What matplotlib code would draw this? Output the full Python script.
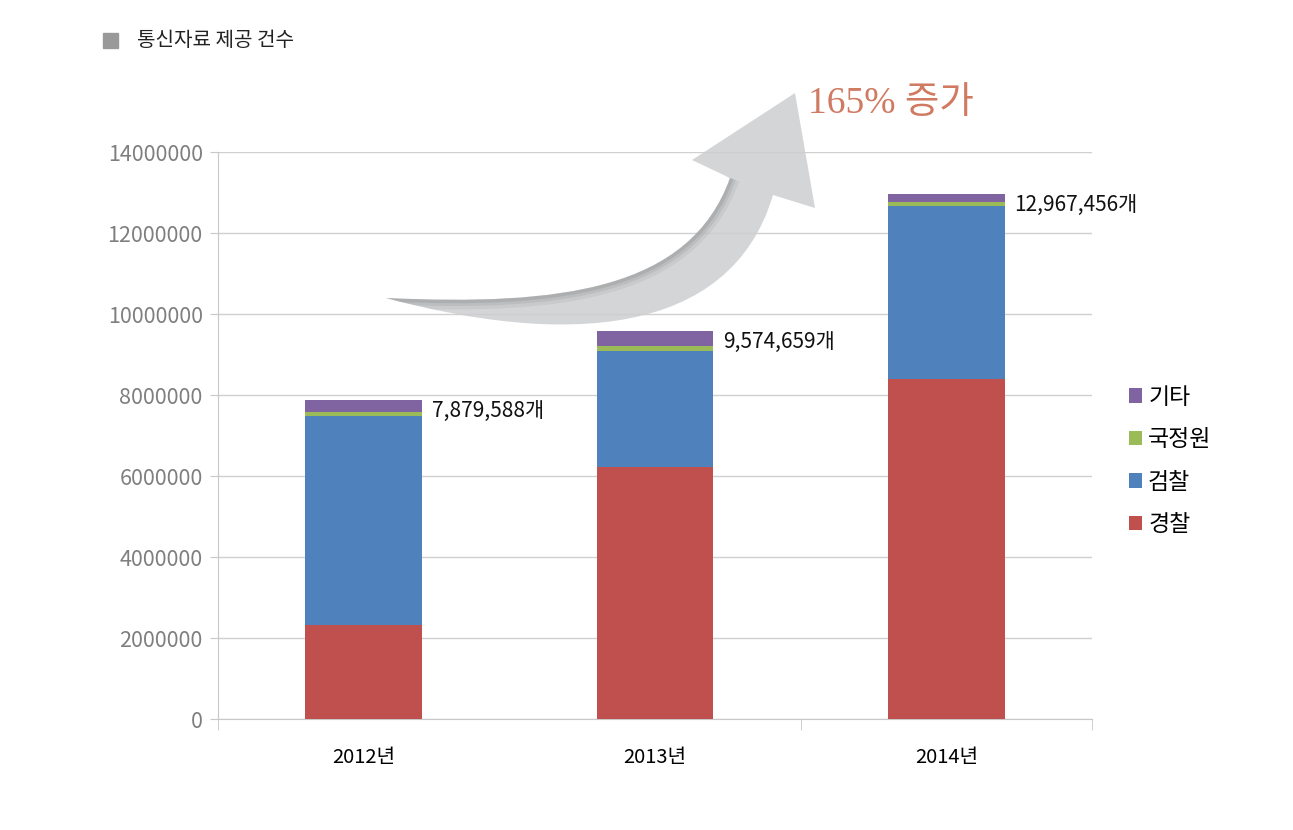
import matplotlib.pyplot as plt
from matplotlib.patches import PathPatch, Rectangle
from matplotlib.path import Path
import numpy as np

plt.rcParams['font.family'] = ['Noto Sans CJK KR', 'DejaVu Sans']

# data
years = ['2012년', '2013년', '2014년']
police = [2330000, 6210000, 8390000]       # 경찰
prosecution = [5160000, 2880000, 4280000]  # 검찰
nis = [100000, 130000, 100000]             # 국정원
other = [289588, 354659, 197456]           # 기타
total_labels = ['7,879,588개', '9,574,659개', '12,967,456개']
yticks = [0, 2000000, 4000000, 6000000, 8000000, 10000000, 12000000, 14000000]

W, H = 1293, 830
fig = plt.figure(figsize=(W / 100, H / 100), dpi=100)
ax = fig.add_axes([218 / W, 1 - 719 / H, (1092 - 218) / W, (719 - 152) / H])

x = np.arange(len(years))
w = 0.4
colors = {'경찰': '#C0504D', '검찰': '#4F81BD', '국정원': '#9BBB59', '기타': '#8064A2'}

bottom = np.zeros(len(years))
handles = {}
for name, vals in [('경찰', police), ('검찰', prosecution), ('국정원', nis), ('기타', other)]:
    b = ax.bar(x, vals, w, bottom=bottom, color=colors[name], label=name, zorder=3)
    handles[name] = b
    bottom += np.array(vals)

# total labels next to bar tops
for xi, tot, lab in zip(x, bottom, total_labels):
    ax.annotate(lab, xy=(xi + w / 2, tot), xytext=(7, -8), textcoords='offset points',
                ha='left', va='center', fontsize=15, color='#111111', zorder=5)

ax.set_xlim(-0.5, 2.5)
ax.set_ylim(0, 14000000)
ax.set_yticks(yticks)
ax.set_yticklabels([str(v) for v in yticks])
ax.yaxis.grid(True, color='#D0D0D0', linewidth=1, zorder=0)
ax.tick_params(axis='y', length=6, color='#C8C8C8', labelcolor='#7F7F7F', labelsize=15.5, pad=5)

ax.set_xticks(x)
ax.set_xticklabels(years, fontsize=14.5, color='#000000', fontweight='medium')
ax.tick_params(axis='x', length=0, pad=20)
ax.set_xticks([-0.5, 1.5, 2.5], minor=True)
ax.tick_params(axis='x', which='minor', length=8, color='#C8C8C8')

for s in ['top', 'right']:
    ax.spines[s].set_visible(False)
ax.spines['left'].set_color('#C8C8C8')
ax.spines['bottom'].set_color('#C8C8C8')

# legend (reverse order)
order = ['기타', '국정원', '검찰', '경찰']
leg = fig.legend([handles[k] for k in order], order, loc='center left',
                 bbox_to_anchor=(1108 / W, 1 - 461 / H), frameon=False,
                 fontsize=16.5, handlelength=0.6, handleheight=0.6, handletextpad=0.25,
                 labelspacing=0.85)

# title with gray square
fig.patches.append(Rectangle((103 / W, 1 - 48 / H), 15 / W, 15 / H,
                             transform=fig.transFigure, color='#999999'))
fig.text(137 / W, 1 - 40 / H, '통신자료 제공 건수', fontsize=14.5,
         color='#222222', va='center', ha='left')


# decorative growth arrow, outline in pixels -> figure fraction
def f(p):
    return (p[0] / W, 1 - p[1] / H)


upper = [(386, 298), (560, 306), (690, 290), (730, 178)]
lower = [(773, 195), (730, 340), (560, 345), (386, 298)]
head = [(692, 160), (795, 93), (815, 208), (773, 195)]
verts = [upper[0], upper[1], upper[2], upper[3]] + head + [lower[1], lower[2], lower[3], upper[0]]
codes = ([Path.MOVETO, Path.CURVE4, Path.CURVE4, Path.CURVE4]
         + [Path.LINETO] * 4
         + [Path.CURVE4, Path.CURVE4, Path.CURVE4, Path.CLOSEPOLY])
arrow_path = Path([f(v) for v in verts], codes)
arrow = PathPatch(arrow_path, transform=fig.transFigure, facecolor='#CDCED0',
                  edgecolor='none', alpha=0.85, zorder=5)
fig.patches.append(arrow)

# soft shadow along the upper edge of the shaft
edge_path = Path([f(v) for v in upper], [Path.MOVETO, Path.CURVE4, Path.CURVE4, Path.CURVE4])
for lw, a in [(14, 0.10), (9, 0.14), (5, 0.18)]:
    sh = PathPatch(edge_path, transform=fig.transFigure, facecolor='none',
                   edgecolor='#6E6E6E', linewidth=lw, alpha=a, zorder=6)
    sh.set_clip_path(arrow)
    fig.patches.append(sh)

fig.text(808 / W, 1 - 104 / H, '165% 증가', fontsize=27,
         family=['Liberation Serif', 'Noto Sans CJK KR'], color='#D07A62',
         va='center', ha='left')

fig.savefig('out.png', dpi=100, facecolor='white')
